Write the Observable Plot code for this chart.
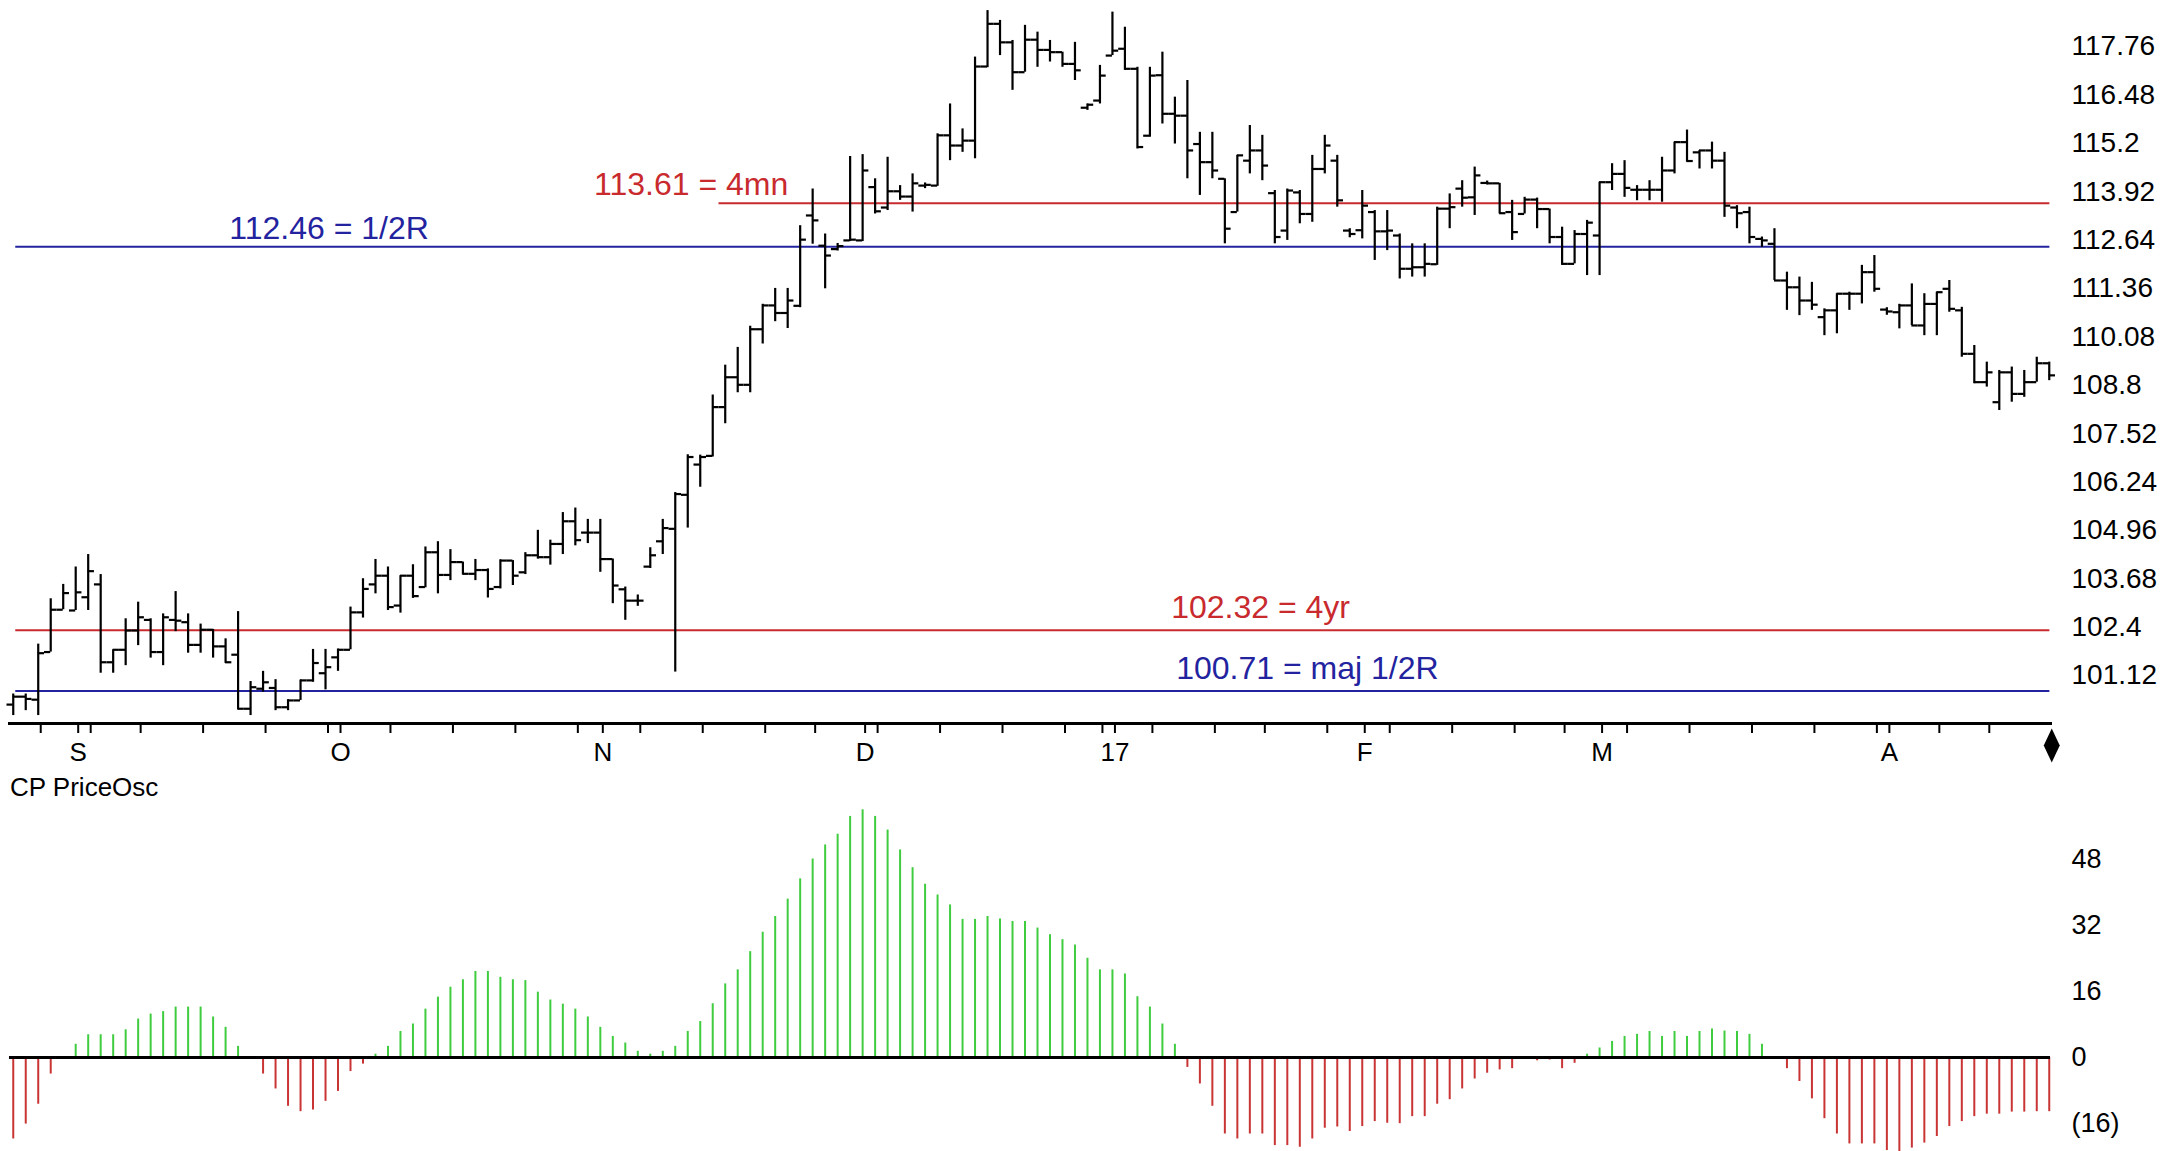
<!DOCTYPE html>
<html>
<head>
<meta charset="utf-8">
<script src="https://cdn.jsdelivr.net/npm/d3@7"></script>
<script src="https://cdn.jsdelivr.net/npm/@observablehq/plot@0.6"></script>
<style>
  html, body { margin: 0; padding: 0; background: #fff; overflow: hidden; }
  #wrap { position: relative; width: 2174px; height: 1151px; overflow: hidden; font-family: 'Liberation Sans', Arial, sans-serif; color: #000; }
  #price { position: absolute; left: 0; top: 0; }
  #osclabel { position: absolute; left: 10px; top: 773px; font-size: 26px; line-height: 28px; white-space: nowrap; }
  #osc { position: absolute; left: 0; top: 800px; }
</style>
</head>
<body>
<div id="wrap">
  <div id="price"></div>
  <div id="osclabel">CP PriceOsc</div>
  <div id="osc"></div>
</div>
<script>
// ---------- data (daily bars, index 0..163) ----------
const open = [100.35,100.56,100.48,101.74,102.86,102.84,103.19,103.53,101.47,101.80,
  102.31,102.59,101.74,102.59,102.53,101.93,102.33,101.89,101.67,100.24,
  100.77,100.79,100.28,100.46,100.99,101.18,101.60,101.80,102.79,103.53,
  103.76,102.97,103.76,103.46,104.38,103.78,104.12,103.81,103.91,103.46,
  104.16,103.85,104.30,104.25,104.60,105.20,104.90,104.90,104.20,103.40,
  103.10,104.00,104.67,105.00,105.90,106.70,106.93,108.22,109.01,108.81,
  110.28,110.91,110.71,110.90,113.29,112.49,112.40,112.63,112.63,114.04,
  113.50,113.93,113.79,114.08,114.08,115.41,115.14,115.27,117.23,118.36,
  117.87,117.08,117.94,117.67,117.61,117.30,116.14,116.33,117.52,117.70,
  117.17,115.40,117.00,115.98,115.93,115.18,114.70,114.26,113.38,114.74,
  115.01,113.88,112.89,113.90,113.33,114.52,114.74,112.89,112.90,113.38,
  112.87,112.76,111.88,111.92,112.00,113.47,114.00,113.77,114.15,114.14,
  113.38,113.33,113.71,113.46,112.72,112.01,112.80,112.76,114.17,114.39,
  113.97,113.97,113.97,114.48,115.23,114.96,115.01,114.74,113.50,113.38,
  112.67,112.54,111.57,111.39,111.04,110.60,110.78,111.22,111.22,111.79,
  110.80,110.73,110.91,110.38,110.95,111.35,110.78,109.63,108.88,108.35,
  109.14,108.57,108.88,109.38];
const high = [100.63,100.63,101.95,103.15,103.53,103.99,104.32,103.79,101.80,102.62,
  103.06,102.62,102.75,103.34,102.75,102.48,102.34,102.09,102.81,100.96,
  101.23,101.01,100.48,101.00,101.81,101.81,101.82,102.93,103.68,104.19,
  103.99,103.76,104.05,104.52,104.66,104.45,104.12,104.19,103.94,104.18,
  104.16,104.37,104.96,104.70,105.43,105.55,105.25,105.25,104.20,103.46,
  103.25,104.50,105.25,105.96,106.96,106.95,108.54,109.33,109.80,110.36,
  110.94,111.36,111.36,113.02,113.99,112.80,112.55,114.85,114.90,114.26,
  114.83,114.08,114.39,114.15,115.45,116.24,115.58,117.48,118.71,118.45,
  117.92,118.32,118.14,117.92,117.61,117.87,116.24,117.26,118.67,118.27,
  117.21,117.21,117.61,116.42,116.86,115.49,115.49,114.26,114.88,115.67,
  115.41,113.95,113.99,113.95,114.88,115.41,114.88,112.94,113.95,113.42,
  113.42,112.80,112.54,112.54,113.51,113.86,114.21,114.57,114.20,114.14,
  113.69,113.77,113.75,113.46,112.98,112.89,113.16,114.17,114.66,114.74,
  114.08,114.21,114.83,115.23,115.55,115.01,115.23,114.96,113.55,113.51,
  112.72,112.94,111.79,111.66,111.52,110.82,111.22,111.26,111.97,112.23,
  110.85,110.94,111.48,111.22,111.26,111.57,110.86,109.85,109.41,109.19,
  109.28,109.19,109.54,109.41];
const low = [100.06,100.19,100.06,101.74,102.86,102.84,102.84,101.18,101.18,101.38,
  101.91,101.58,101.38,102.28,101.71,101.71,101.58,101.44,100.21,100.06,
  100.68,100.19,100.19,100.46,100.94,100.74,101.23,101.80,102.64,103.28,
  102.84,102.77,103.16,103.44,103.28,103.63,103.78,103.63,103.17,103.41,
  103.50,103.79,104.20,104.04,104.32,104.55,104.61,103.85,103.02,102.58,
  102.95,103.95,104.32,101.21,105.02,106.10,106.90,107.78,108.60,108.60,
  109.89,110.48,110.30,110.85,112.53,111.35,112.35,112.60,112.60,113.33,
  113.42,113.69,113.38,114.00,114.06,114.74,114.96,114.79,117.20,117.52,
  116.60,117.08,117.21,117.35,117.21,116.86,116.07,116.24,117.52,117.13,
  115.05,115.36,115.71,115.18,114.26,113.82,114.26,112.54,113.38,114.39,
  114.21,112.54,112.63,113.07,113.11,114.39,113.51,112.70,112.67,112.10,
  112.36,111.61,111.66,111.66,111.97,112.94,113.51,113.29,114.10,113.33,
  112.63,113.33,112.94,112.54,111.97,112.01,111.70,111.70,113.95,113.77,
  113.68,113.68,113.64,114.39,114.70,114.52,114.52,113.24,112.94,112.54,
  112.45,111.57,110.78,110.64,110.78,110.11,110.16,110.78,110.95,111.26,
  110.65,110.29,110.38,110.11,110.11,110.73,109.54,108.84,108.75,108.13,
  108.35,108.48,108.88,108.92];
const close = [100.56,100.50,101.71,102.86,103.30,103.32,103.88,101.47,101.80,102.31,
  102.66,101.74,102.66,102.57,101.93,102.33,101.89,101.47,100.24,100.81,
  100.94,100.28,100.46,100.99,101.45,101.34,101.80,102.79,103.41,103.76,
  102.93,103.76,103.22,104.38,103.78,104.12,103.81,103.91,103.41,104.16,
  103.76,104.30,104.25,104.60,105.20,104.70,104.90,104.20,103.50,103.10,
  103.10,104.30,105.02,105.92,106.90,106.90,108.22,109.01,108.81,110.28,
  110.91,110.71,111.04,112.65,113.16,112.23,112.48,112.65,114.48,113.40,
  113.93,113.79,114.14,114.10,115.41,115.14,115.27,117.23,118.36,117.87,
  117.08,117.94,117.67,117.61,117.30,117.13,116.22,116.99,117.65,117.17,
  115.10,116.99,115.98,115.93,115.01,114.70,114.48,112.94,114.88,115.01,
  114.61,112.72,113.95,113.33,114.52,115.14,113.69,112.80,113.55,112.87,
  112.89,111.88,111.92,112.01,113.47,113.51,113.76,114.35,114.14,113.35,
  112.85,113.71,113.46,112.72,112.01,112.80,113.10,114.17,114.39,114.02,
  113.97,113.97,114.48,115.23,114.73,115.01,114.74,113.55,113.35,112.72,
  112.63,111.57,111.39,111.04,110.93,110.78,111.22,111.22,111.79,111.35,
  110.75,110.91,110.38,110.95,111.26,110.82,109.63,108.88,109.14,109.14,
  108.57,108.88,109.38,109.06];
// CP PriceOsc values per bar
const osc = [-19.7,-16.1,-11.3,-4.0,0,3.2,5.5,5.5,5.5,6.7,
  9.3,10.5,11.1,12.2,12.2,12.2,9.8,7.3,2.7,0,
  -4.0,-7.6,-11.8,-13.1,-12.7,-10.6,-8.2,-3.4,-1.6,0.8,
  2.7,6.3,8.1,11.7,14.6,17.0,18.8,20.8,20.8,19.4,
  18.8,18.6,15.8,13.9,12.9,11.7,9.8,7.3,5.1,3.5,
  1.5,0.8,1.5,2.7,6.3,8.7,13.0,17.8,21.2,25.6,
  30.3,34.1,38.3,43.2,48.0,51.4,54.0,58.3,59.9,58.3,
  55.0,50.2,45.9,41.9,39.3,36.9,33.4,33.4,34.1,33.5,
  32.9,32.9,31.3,29.7,28.5,27.2,24.0,21.2,21.2,20.2,
  14.7,12.2,8.1,3.2,-2.4,-6.4,-11.8,-18.5,-19.7,-18.5,
  -18.5,-21.3,-21.3,-21.7,-19.7,-17.1,-16.8,-17.9,-16.7,-15.5,
  -15.9,-16.0,-14.3,-14.3,-11.3,-10.2,-7.6,-5.2,-3.8,-3.0,
  -2.7,0,-0.8,-0.6,-2.7,-1.4,0.8,2.3,3.9,5.1,
  5.6,6.3,5.1,6.3,5.1,6.3,6.9,6.4,6.3,5.6,
  3.2,0,-2.7,-5.8,-10.0,-14.8,-18.5,-20.9,-20.9,-20.9,
  -22.5,-22.9,-21.9,-20.7,-19.1,-16.7,-15.5,-14.3,-13.7,-13.7,
  -13.2,-13.2,-13.1,-13.1];

// x-axis: bar indexes of weekly ticks, month ticks and their labels
const weekTicks = [2,6,10,15,20,25,30,35,40,45,50,55,60,64,69,74,79,84,87,91,96,100,105,110,115,120,124,129,134,139,144,149,154,158];
const monthTicks = [5,26,47,68,88,108,127,150];
const monthLabels = ["S","O","N","D","17","F","M","A"];
// right axes tick values
const priceTicks = [101.12,102.4,103.68,104.96,106.24,107.52,108.8,110.08,111.36,112.64,113.92,115.2,116.48,117.76];
const oscTicks = [-16,0,16,32,48];
// horizontal levels
const levelValues = [112.46, 113.61, 102.32, 100.71];
const levelTexts = ["112.46 = 1/2R", "113.61 = 4mn", "102.32 = 4yr", "100.71 = maj 1/2R"];
const levelKinds = ["blue", "red", "red", "blue"];
const levelFrom = [0.2, 56.5, 0.2, 0.2];
const levelTo = [163.05, 163.05, 163.05, 163.05];
const levelLabelAt = [17.3, 46.5, 92.7, 93.1];
const lastBar = 163;

// ---------- styling ----------
const BLUE = "#23239f", RED = "#c82a2e", GREEN = "#3fcc3f", OSCRED = "#c93434";
const FONT = "'Liberation Sans', Arial, sans-serif";
const tickShift = 0.2;

const bars = open.map((o, i) => ({i, open: o, high: high[i], low: low[i], close: close[i]}));
const oscData = osc.map((v, i) => ({i, v}));
const levels = levelValues.map((v, k) => ({
  value: v, text: levelTexts[k], color: levelKinds[k] === "blue" ? BLUE : RED,
  from: levelFrom[k], to: levelTo[k], at: levelLabelAt[k], upper: v > 110
}));
const monthMap = new Map(monthTicks.map((d, k) => [d + tickShift, monthLabels[k]]));

const diamond = {
  draw(ctx) {
    ctx.moveTo(0, -17); ctx.lineTo(8, 0); ctx.lineTo(0, 17); ctx.lineTo(-8, 0); ctx.closePath();
  }
};

const xDomain = [-0.3, 163.1];

const priceChart = Plot.plot({
  width: 2174, height: 770,
  marginTop: 0, marginBottom: 47, marginLeft: 9, marginRight: 124,
  x: {domain: xDomain},
  y: {domain: [99.85, 118.977]},
  style: {fontFamily: FONT, background: "transparent", color: "#000", overflow: "visible"},
  marks: [
    Plot.axisY(priceTicks, {anchor: "right", tickSize: 0, tickPadding: 21, fontSize: 28, label: null,
      tickFormat: d => String(+d.toFixed(2))}),
    Plot.axisX(weekTicks.map(d => d + tickShift), {anchor: "bottom", tickSize: 10, strokeWidth: 2, label: null,
      tickFormat: () => ""}),
    Plot.axisX(monthTicks.map(d => d + tickShift), {anchor: "bottom", tickSize: 10, tickPadding: 9, strokeWidth: 2,
      fontSize: 26, label: null, tickFormat: d => monthMap.get(d)}),
    Plot.frame({anchor: "bottom", strokeWidth: 3}),
    ...levels.map(l => Plot.ruleY([l], {y: "value", x1: "from", x2: "to", stroke: l.color, strokeWidth: 2})),
    ...levels.map(l => Plot.text([l], {x: "at", y: "value", text: "text", fill: l.color, fontSize: 32,
      textAnchor: "start", lineAnchor: "bottom", dy: l.upper ? -8 : -12})),
    Plot.ruleX(bars, {x: "i", y1: "low", y2: "high", stroke: "#000", strokeWidth: 2.2}),
    Plot.ruleY(bars, {y: "open", x1: d => d.i - 0.5, x2: d => d.i, stroke: "#000", strokeWidth: 2.2}),
    Plot.ruleY(bars, {y: "close", x1: d => d.i, x2: d => d.i + 0.5, stroke: "#000", strokeWidth: 2.2}),
    Plot.dot([lastBar], {x: d => d + tickShift, frameAnchor: "bottom", dy: 22, symbol: diamond, fill: "#000", stroke: "none"})
  ]
});
document.getElementById("price").appendChild(priceChart);

const oscChart = Plot.plot({
  width: 2174, height: 351,
  marginTop: 0, marginBottom: 0, marginLeft: 9, marginRight: 124,
  x: {domain: xDomain, axis: null},
  y: {domain: [-22.73, 62.15]},
  style: {fontFamily: FONT, background: "transparent", color: "#000", overflow: "visible"},
  marks: [
    Plot.axisY(oscTicks, {anchor: "right", tickSize: 0, tickPadding: 21, fontSize: 27, label: null,
      tickFormat: d => d < 0 ? `(${-d})` : `${d}`}),
    Plot.ruleX(oscData, {filter: d => d.v > 0, x: "i", y1: 0, y2: "v", stroke: GREEN, strokeWidth: 2}),
    Plot.ruleX(oscData, {filter: d => d.v < 0, x: "i", y1: 0, y2: "v", stroke: OSCRED, strokeWidth: 2}),
    Plot.ruleY([0], {stroke: "#000", strokeWidth: 3})
  ]
});
document.getElementById("osc").appendChild(oscChart);
</script>
</body>
</html>
